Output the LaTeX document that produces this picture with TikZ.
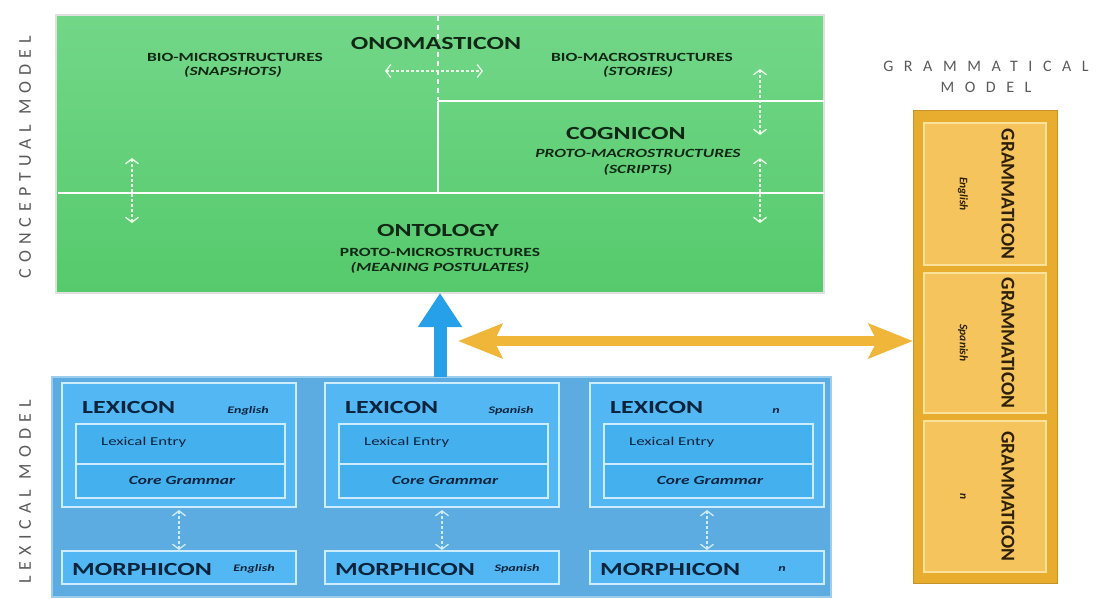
\documentclass[tikz,border=0pt]{standalone}
\usepackage{fontspec}
\setmainfont{Carlito}
\newfontfamily\wide[FakeStretch=1.4]{Carlito}
\newfontfamily\spaced[LetterSpace=34]{Carlito}
\newfontfamily\spacedg[LetterSpace=66]{Carlito}
\usetikzlibrary{arrows.meta}
\definecolor{gtop}{RGB}{114,215,136}
\definecolor{gbot}{RGB}{86,202,108}
\definecolor{gtext}{RGB}{18,40,22}
\definecolor{bout}{RGB}{92,171,225}
\definecolor{bbox}{RGB}{82,183,242}
\definecolor{binner}{RGB}{68,176,238}
\definecolor{bedge}{RGB}{205,236,255}
\definecolor{btext}{RGB}{10,36,62}
\definecolor{barrowc}{RGB}{38,160,232}
\definecolor{oout}{RGB}{232,172,46}
\definecolor{ocell}{RGB}{245,196,92}
\definecolor{oedge}{RGB}{250,226,155}
\definecolor{otext}{RGB}{45,32,8}
\definecolor{oarrowc}{RGB}{240,182,58}
\definecolor{graylab}{RGB}{90,90,90}
\begin{document}
\begin{tikzpicture}[x=1pt,y=-1pt,
  box/.style={inner sep=0pt,outer sep=0pt,anchor=north west},
  divider/.style={draw=white,line width=2.2pt},
  darr/.style={draw=white!92!green,line width=1.3pt,dash pattern=on 3pt off 2pt,
    {Straight Barb[length=5pt,width=13pt]}-{Straight Barb[length=5pt,width=13pt]}},
  big/.style={font=\wide\bfseries\fontsize{18.5}{20}\selectfont,inner sep=0pt},
  small/.style={font=\wide\bfseries\fontsize{12.5}{13}\selectfont,inner sep=0pt},
  smallit/.style={font=\wide\bfseries\itshape\fontsize{12.5}{13}\selectfont,inner sep=0pt},
  langlab/.style={font=\wide\bfseries\itshape\fontsize{10}{11}\selectfont,inner sep=0pt,text=btext},
  sidelab/.style={font=\spaced\fontsize{18}{19}\selectfont,text=graylab,rotate=90,inner sep=0pt},
  barrow/.style={draw=barrowc,line width=13pt,-{Triangle[length=34pt,width=42pt]}},
  oarrow/.style={draw=oarrowc,line width=10pt,
    {Stealth[length=44pt,width=34pt,inset=8pt]}-{Stealth[length=44pt,width=34pt,inset=8pt]}}
]
\useasboundingbox (0,0) rectangle (1099,598);

% ---------------- conceptual model ----------------
\node[sidelab] (lconcept) at (25,157) {CONCEPTUAL MODEL};
\node[box,top color=gtop,bottom color=gbot,draw=white!88!black,line width=1.6pt,
      minimum width=768pt,minimum height=278pt] (concept) at (56,15) {};
\draw[divider] (58,193) -- (824,193);
\draw[divider] (438,101) -- (824,101);
\draw[divider] (438,101) -- (438,193);
\draw[draw=white,line width=1.8pt,dash pattern=on 5pt off 4pt] (438,16) -- (438,100);

\node[big,text=gtext] (onoma) at (436,43) {ONOMASTICON};
\node[small,text=gtext] (biomic) at (235,57) {BIO-MICROSTRUCTURES};
\node[smallit,text=gtext] (snap) at (233,72) {(SNAPSHOTS)};
\node[small,text=gtext] (biomac) at (642,57) {BIO-MACROSTRUCTURES};
\node[smallit,text=gtext] (stor) at (638,72) {(STORIES)};
\node[big,text=gtext] (cogn) at (626,133) {COGNICON};
\node[smallit,text=gtext] (pmac) at (638,153) {PROTO-MACROSTRUCTURES};
\node[smallit,text=gtext] (scr) at (638,170) {(SCRIPTS)};
\node[big,text=gtext] (onto) at (438,230) {ONTOLOGY};
\node[small,text=gtext] (pmic) at (440,252) {PROTO-MICROSTRUCTURES};
\node[smallit,text=gtext] (mp) at (440,268) {(MEANING POSTULATES)};

\coordinate (h1) at (385,71); \coordinate (h2) at (483,71);
\draw[darr] (h1) -- (h2);
\coordinate (r1) at (760,69); \coordinate (r2) at (760,135);
\draw[darr] (r1) -- (r2);
\coordinate (r3) at (760,158); \coordinate (r4) at (760,223);
\draw[darr] (r3) -- (r4);
\coordinate (l1) at (132,158); \coordinate (l2) at (132,223);
\draw[darr] (l1) -- (l2);

% ---------------- lexical model ----------------
\node[sidelab] (llex) at (25,492) {LEXICAL MODEL};
\node[box,fill=bout,draw=bout!60!white,line width=1.2pt,
      minimum width=779pt,minimum height=220pt] (lexmodel) at (52,377) {};

\foreach \x/\lang/\i in {62/English/1,325/Spanish/2,590/n/3}{
  \node[box,fill=bbox,draw=bedge,line width=1.8pt,minimum width=234pt,minimum height=124pt] (lex\i) at (\x,383) {};
  \node[box,fill=binner,draw=bedge,line width=1.6pt,minimum width=209pt,minimum height=74pt] (ent\i) at (\x+14,424) {};
  \draw[draw=bedge,line width=1.4pt] (ent\i.west |- 0,464) -- (ent\i.east |- 0,464);
  \node[big,text=btext,anchor=west] (lexl\i) at (\x+20,407) {LEXICON};
  \node[langlab] (lexlang\i) at (\x+186,411) {\lang};
  \node[font=\wide\fontsize{12}{13}\selectfont,text=btext,inner sep=0pt,anchor=west] (le\i) at (\x+39,442) {Lexical Entry};
  \node[font=\wide\bfseries\itshape\fontsize{12.4}{13}\selectfont,text=btext,inner sep=0pt] (cg\i) at (\x+120,480) {Core Grammar};
  \node[box,fill=bbox,draw=bedge,line width=1.8pt,minimum width=234pt,minimum height=33pt] (mor\i) at (\x,551) {};
  \node[big,text=btext,anchor=west] (morl\i) at (\x+10,569) {MORPHICON};
  \node[langlab] (morlang\i) at (\x+192,569) {\lang};
  \draw[darr,draw=bedge,shorten <=3pt,shorten >=1pt] (lex\i.south) -- (mor\i.north);
}

% ---------------- grammatical model ----------------
\node[font=\spacedg\fontsize{16}{17}\selectfont,text=graylab,inner sep=0pt] (gml1) at (986,66) {GRAMMATICAL};
\node[font=\spacedg\fontsize{16}{17}\selectfont,text=graylab,inner sep=0pt] (gml2) at (986,87) {MODEL};
\node[box,fill=oout,draw=oout!85!black,line width=1pt,minimum width=144pt,minimum height=473pt] (gram) at (913,110) {};
\foreach \y/\h/\lang/\i in {123/142/English/1,273/140/Spanish/2,421/151/n/3}{
  \node[box,fill=ocell,draw=oedge,line width=1.6pt,minimum width=122pt,minimum height=\h pt] (cell\i) at (924,\y) {};
  \node[font=\bfseries\fontsize{19.5}{20}\selectfont,text=otext,rotate=-90,inner sep=0pt] (gt\i) at (1008,\y+\h/2) {GRAMMATICON};
  \node[font=\bfseries\itshape\fontsize{11.5}{12}\selectfont,text=otext,rotate=-90,inner sep=0pt] (gl\i) at (963,\y+\h/2) {\lang};
}

% ---------------- big arrows ----------------
\coordinate (bfoot) at (440,377);
\draw[barrow] (bfoot) -- (bfoot |- concept.south);
\coordinate (oleft) at (458,341);
\draw[oarrow] (oleft) -- (oleft -| gram.west);
\end{tikzpicture}
\end{document}
